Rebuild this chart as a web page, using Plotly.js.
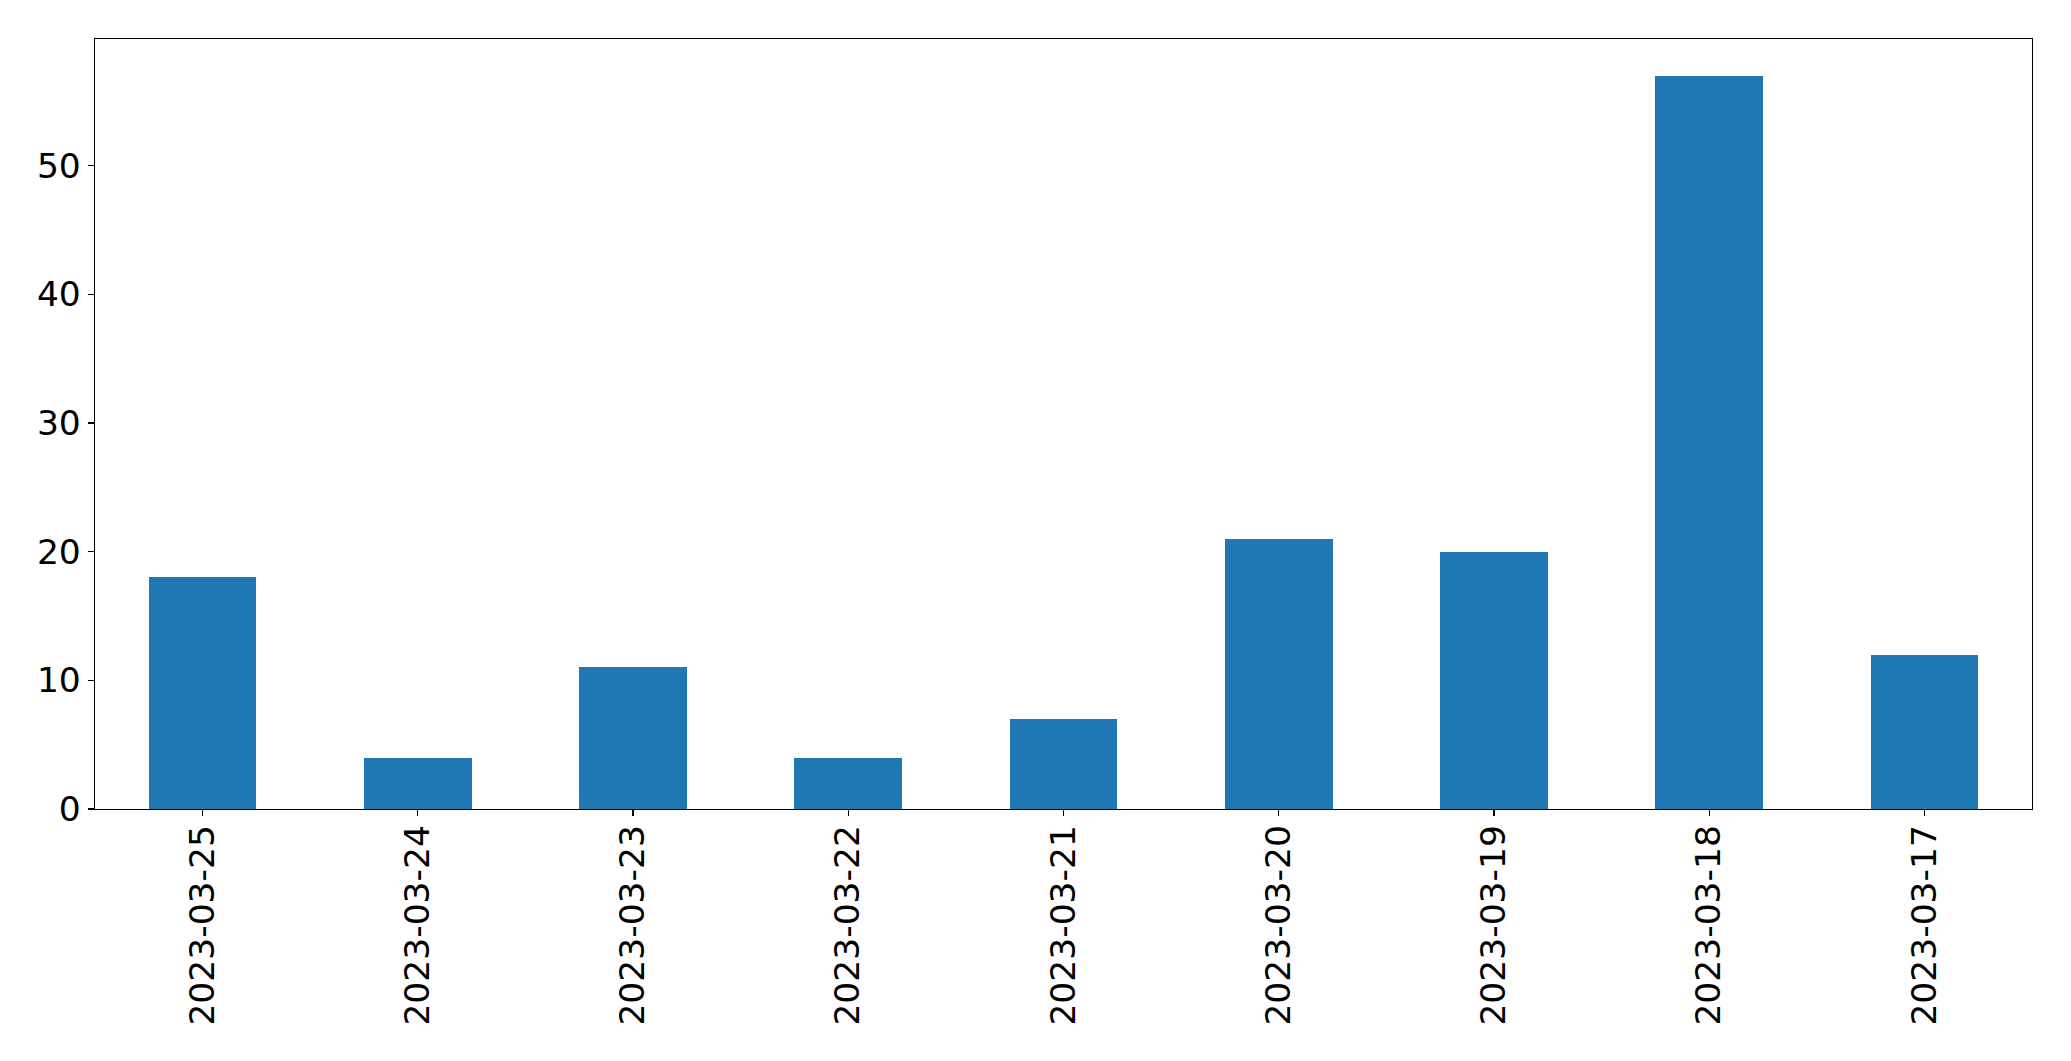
<!DOCTYPE html>
<html>
<head>
<meta charset="utf-8">
<script src="https://cdn.plot.ly/plotly-3.0.1.min.js"></script>
<style>html,body{margin:0;padding:0;background:#fff;}#chart{width:2071px;height:1061px;}</style>
</head>
<body>
<div id="chart"></div>
<script>
const dates = ["2023-03-25","2023-03-24","2023-03-23","2023-03-22","2023-03-21","2023-03-20","2023-03-19","2023-03-18","2023-03-17"];
const counts = [18, 4, 11, 4, 7, 21, 20, 57, 12];
const yTicks = [0, 10, 20, 30, 40, 50];

const trace = {
  type: 'bar',
  x: dates,
  y: counts,
  width: 0.5,
  marker: {color: '#1f77b4', line: {width: 0}},
  hoverinfo: 'x+y'
};

const font = {family: 'DejaVu Sans, sans-serif', size: 34.5, color: '#000'};

const layout = {
  width: 2071, height: 1061,
  margin: {l: 95, r: 39, t: 39, b: 252, pad: 0},
  paper_bgcolor: '#fff', plot_bgcolor: '#fff',
  showlegend: false,
  bargap: 0,
  xaxis: {
    type: 'category',
    range: [-0.5, dates.length - 0.5],
    tickangle: -90,
    ticks: 'outside', ticklen: 6, tickwidth: 1.3, tickcolor: '#000',
    ticklabelstandoff: -5,
    showline: true, mirror: true, linecolor: '#000', linewidth: 1.3,
    showgrid: false, zeroline: false,
    tickfont: font,
    automargin: false
  },
  yaxis: {
    range: [0, Math.max(...counts) * 1.05],
    tickvals: yTicks,
    ticktext: yTicks.map(String),
    ticks: 'outside', ticklen: 6, tickwidth: 1.3, tickcolor: '#000',
    showline: true, mirror: true, linecolor: '#000', linewidth: 1.3,
    showgrid: false, zeroline: false,
    tickfont: font,
    automargin: false
  }
};

Plotly.newPlot('chart', [trace], layout, {staticPlot: true, displayModeBar: false});
</script>
</body>
</html>
